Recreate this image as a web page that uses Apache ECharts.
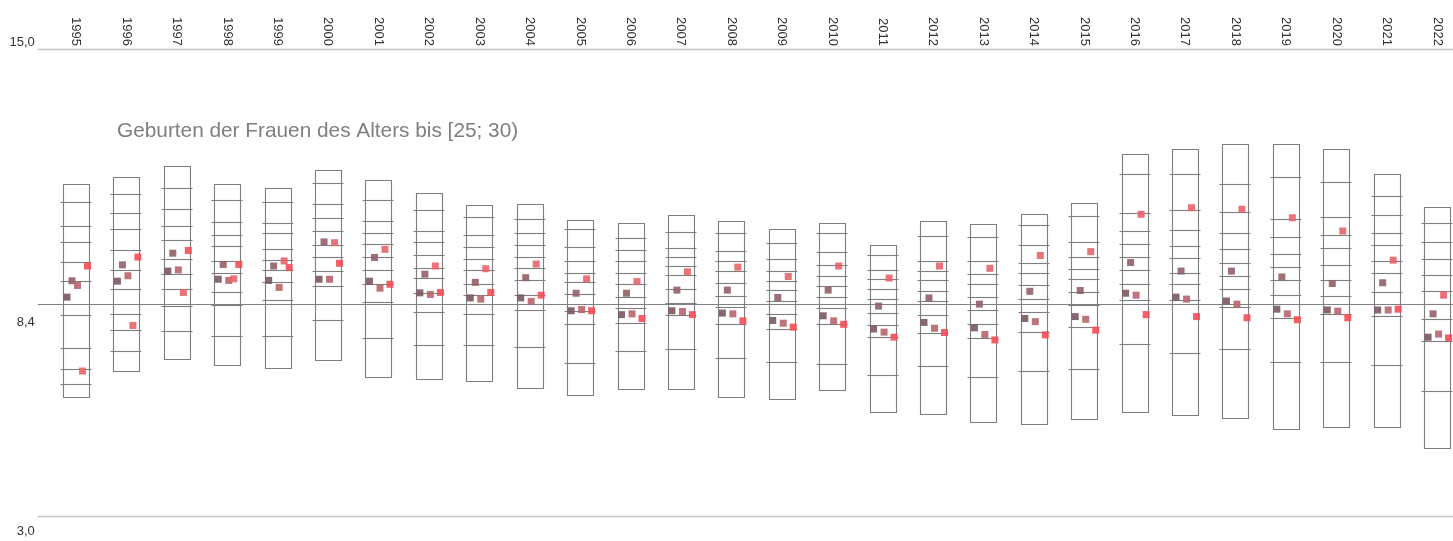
<!DOCTYPE html>
<html>
<head>
<meta charset="utf-8">
<script src="https://cdn.jsdelivr.net/npm/echarts@6/dist/echarts.min.js"></script>
<style>html,body{margin:0;padding:0;background:#fff}#c{width:1453px;height:541px}</style>
</head>
<body>
<div id="c"></div>
<script>
const years = [1995,1996,1997,1998,1999,2000,2001,2002,2003,2004,2005,2006,2007,2008,2009,2010,2011,2012,2013,2014,2015,2016,2017,2018,2019,2020,2021,2022];
const boxTop = [11.53,11.72,11.99,11.52,11.43,11.89,11.63,11.29,10.98,11.01,10.60,10.53,10.73,10.58,10.38,10.53,9.95,10.58,10.50,10.77,11.05,12.31,12.43,12.56,12.56,12.43,11.79,10.95];
const boxBottom = [6.05,6.73,7.02,6.88,6.81,7.00,6.57,6.51,6.47,6.28,6.10,6.25,6.25,6.04,6.00,6.22,5.66,5.61,5.40,5.36,5.48,5.67,5.58,5.50,5.23,5.28,5.28,4.73];
const decileLines = [
  [11.06,10.46,10.04,9.53,9.03,8.16,7.30,6.78,6.38],
  [11.26,10.78,10.38,9.83,9.31,8.83,8.18,7.77,7.23],
  [11.43,10.88,10.46,10.08,9.61,9.22,8.83,8.39,7.75],
  [11.11,10.55,10.23,9.93,9.54,9.23,8.75,8.42,7.63],
  [11.06,10.53,10.26,9.87,9.58,9.32,9.01,8.55,7.63],
  [11.56,11.01,10.66,10.33,9.96,9.65,9.28,8.91,8.03],
  [11.11,10.58,10.28,9.99,9.66,9.33,8.97,8.50,7.56],
  [10.86,10.33,10.03,9.70,9.38,9.10,8.73,8.23,7.38],
  [10.69,10.21,9.90,9.61,9.32,8.97,8.68,8.18,7.38],
  [10.63,10.27,9.95,9.66,9.36,9.06,8.67,8.28,7.33],
  [10.38,9.91,9.56,9.24,9.01,8.71,8.27,7.93,6.93],
  [10.13,9.83,9.54,9.24,8.95,8.63,8.35,7.95,7.23],
  [10.29,9.88,9.66,9.41,9.18,8.84,8.46,8.16,7.28],
  [10.28,9.81,9.56,9.29,8.98,8.66,8.37,7.93,7.05],
  [10.00,9.60,9.29,9.03,8.80,8.53,8.18,7.81,6.95],
  [10.26,9.78,9.45,9.17,8.90,8.62,8.33,7.93,6.90],
  [9.71,9.33,9.09,8.83,8.58,8.22,7.90,7.59,6.63],
  [10.18,9.56,9.30,9.05,8.79,8.52,8.15,7.71,6.86],
  [10.16,9.56,9.21,8.96,8.63,8.28,7.93,7.56,6.56],
  [10.48,9.96,9.51,9.23,8.92,8.58,8.23,7.72,6.72],
  [10.71,10.03,9.65,9.35,9.08,8.75,8.41,7.85,6.77],
  [11.79,10.78,10.31,9.99,9.66,9.31,8.96,8.54,7.41],
  [11.79,10.86,10.35,9.93,9.62,9.25,8.97,8.55,7.18],
  [11.53,10.81,10.28,9.86,9.51,9.16,8.83,8.36,7.28],
  [11.71,10.63,10.16,9.73,9.40,9.05,8.68,8.08,6.95],
  [11.58,10.67,10.23,9.88,9.45,9.06,8.66,8.19,6.95],
  [11.23,10.73,10.28,9.95,9.56,9.23,8.75,8.13,6.87],
  [10.53,10.03,9.61,9.18,8.78,8.44,8.06,7.50,6.20]
];
const group1 = [8.62,9.03,9.29,9.08,9.05,9.08,9.03,8.73,8.60,8.60,8.27,8.17,8.27,8.21,8.02,8.14,7.80,7.97,7.83,8.07,8.12,8.72,8.62,8.52,8.31,8.29,8.29,7.59];
const group2 = [9.04,9.45,9.75,9.46,9.42,10.04,9.64,9.21,9.00,9.12,8.72,8.72,8.80,8.80,8.61,8.80,8.39,8.60,8.44,8.77,8.79,9.51,9.29,9.29,9.14,8.97,8.99,8.19];
const group3 = [8.92,9.17,9.32,9.05,8.87,9.08,8.85,8.69,8.57,8.51,8.30,8.19,8.25,8.19,7.95,8.01,7.72,7.82,7.66,7.99,8.05,8.67,8.57,8.44,8.19,8.26,8.29,7.67];
const group4 = [6.72,7.89,8.74,9.09,9.55,10.02,9.85,9.42,9.35,9.47,9.09,9.02,9.27,9.39,9.15,9.42,9.11,9.42,9.36,9.69,9.79,10.75,10.92,10.88,10.66,10.32,9.57,8.67];
const group5 = [9.42,9.65,9.82,9.46,9.38,9.49,8.95,8.74,8.74,8.67,8.27,8.07,8.17,8.01,7.85,7.92,7.59,7.71,7.52,7.65,7.77,8.17,8.12,8.09,8.04,8.09,8.31,7.57];
const refValues = [15, 8.44, 3];
const refLabels = ['15,0', '8,4', '3,0'];
const titleText = 'Geburten der Frauen des Alters bis [25; 30)';

const FONT = '"Liberation Sans", Arial, sans-serif';
const boxColor = '#7e7e7e';
const groupColors = ['#7a5860', '#926068', '#b8646c', '#e8646c', '#f54c58'];
const groupOffsets = [-9, -4, 1.5, 6.5, 11.5];
const groups = [group1, group2, group3, group4, group5];
const labelShift = [-7.5, 17.5, 15];

function renderBox(params, api) {
  const i = api.value(0);
  const lo = api.coord([i, api.value(1)]);
  const hi = api.coord([i, api.value(2)]);
  const cx = Math.round(lo[0]);
  const yTop = Math.round(hi[1]) + 0.5;
  const yBot = Math.round(lo[1]) + 0.5;
  const children = [{
    type: 'rect',
    shape: { x: cx - 12.5, y: yTop, width: 26, height: yBot - yTop },
    style: { fill: 'none', stroke: boxColor, lineWidth: 1.1 }
  }];
  for (let k = 3; k < 12; k++) {
    const y = Math.round(api.coord([i, api.value(k)])[1]) + 0.5;
    children.push({
      type: 'line',
      shape: { x1: cx - 15.5, y1: y, x2: cx + 15.5, y2: y },
      style: { stroke: boxColor, lineWidth: 1.1 }
    });
  }
  return { type: 'group', children };
}

function renderRef(params, api) {
  const idx = params.dataIndex;
  const cs = params.coordSys;
  const y = Math.round(api.coord([0, api.value(1)])[1]) + 0.5;
  return {
    type: 'group',
    children: [
      {
        type: 'line',
        shape: { x1: cs.x - 13, y1: y, x2: cs.x + cs.width, y2: y },
        style: { stroke: idx === 1 ? '#808080' : '#c4c4c4', lineWidth: idx === 1 ? 1.1 : 1.5 }
      },
      {
        type: 'text',
        style: {
          text: refLabels[idx], x: cs.x - 16, y: y + labelShift[idx],
          align: 'right', verticalAlign: 'middle', fill: '#333333',
          fontSize: 13, fontFamily: FONT
        }
      }
    ]
  };
}

const chart = echarts.init(document.getElementById('c'), null, { renderer: 'canvas' });
const series = [
  {
    type: 'custom', name: 'Verteilung', renderItem: renderBox, z: 2, silent: true,
    encode: { x: 0, y: [1, 2] },
    data: years.map((y, i) => [i, boxBottom[i], boxTop[i]].concat(decileLines[i]))
  },
  {
    type: 'custom', name: 'Referenz', renderItem: renderRef, z: 3, silent: true,
    encode: { x: 0, y: 1 },
    data: refValues.map(v => [0, v])
  }
].concat(groups.map((g, s) => ({
  type: 'scatter', name: 'Gruppe ' + (s + 1), z: 5, silent: true,
  symbol: 'rect', symbolSize: 7, symbolOffset: [groupOffsets[s], 0],
  itemStyle: { color: groupColors[s], opacity: 0.9 },
  data: g.map((v, i) => [i, v])
})));

chart.setOption({
  animation: false,
  title: {
    text: titleText, left: 117, top: 121, padding: 0,
    textStyle: { fontSize: 20.8, fontWeight: 'normal', color: '#7f7f7f', fontFamily: FONT }
  },
  grid: { left: 50.8, top: 49, width: 1411.5, height: 466.7, outerBoundsMode: 'none', containLabel: false },
  xAxis: {
    type: 'category', data: years.map(String), position: 'top', boundaryGap: true,
    axisLine: { show: false }, axisTick: { show: false }, splitLine: { show: false },
    axisLabel: { rotate: 90, margin: 3, fontSize: 13, color: '#333333', fontFamily: FONT, interval: 0 }
  },
  yAxis: { type: 'value', min: 3, max: 15, interval: 12, show: false },
  series: series
});
</script>
</body>
</html>
